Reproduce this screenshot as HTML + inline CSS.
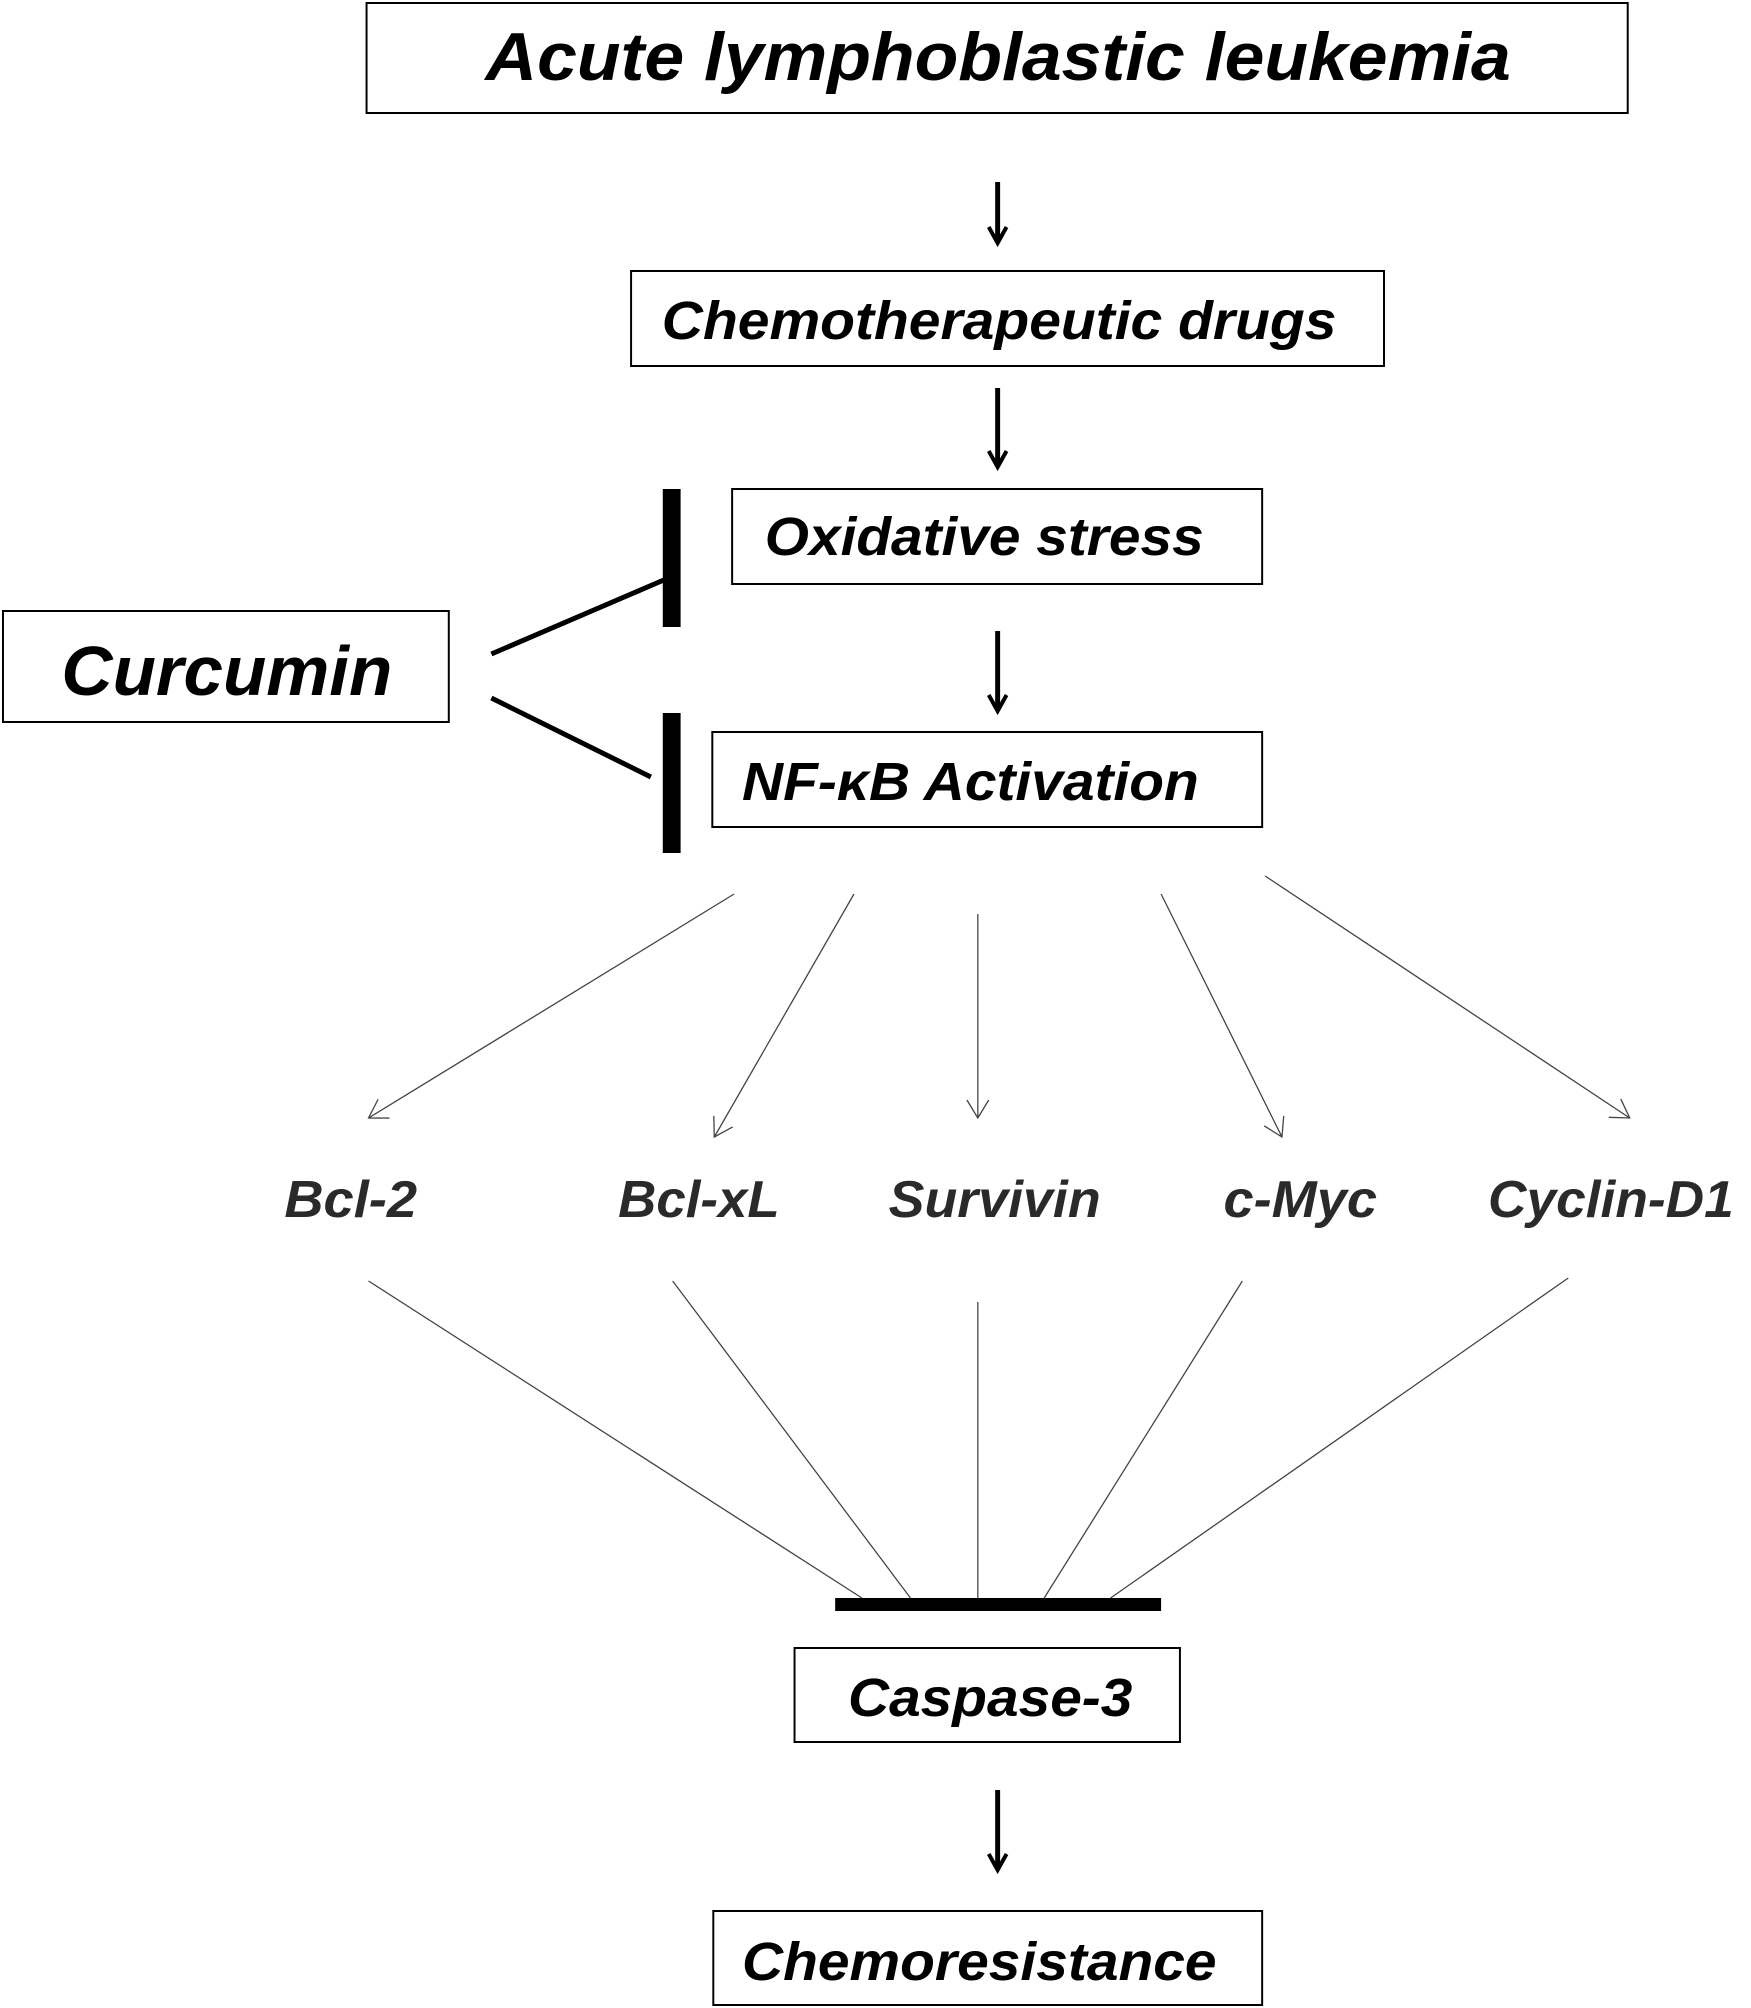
<!DOCTYPE html>
<html><head><meta charset="utf-8"><style>html,body{margin:0;padding:0;background:#fff}svg{display:block}</style></head>
<body>
<svg width="1751" height="2008" viewBox="0 0 1751 2008" xmlns="http://www.w3.org/2000/svg" font-family="Liberation Sans, Arial, sans-serif" font-style="italic" font-weight="bold">
<defs>
<marker id="ah" markerWidth="24" markerHeight="24" refX="18" refY="12" orient="auto" markerUnits="userSpaceOnUse"><path d="M2,3 L18,12 L2,21" fill="none" stroke="#000" stroke-width="4"/></marker>
<marker id="th" markerWidth="26" markerHeight="26" refX="20" refY="13" orient="auto" markerUnits="userSpaceOnUse"><path d="M2,2 L20,13 L2,24" fill="none" stroke="#444" stroke-width="1.3"/></marker>
</defs>
<g transform="scale(0.9907,1)">
<g fill="none" stroke="#000" stroke-width="2">
<rect x="370" y="3" width="1273" height="110"/>
<rect x="637" y="271" width="760" height="95"/>
<rect x="739" y="489" width="535" height="95"/>
<rect x="3" y="611" width="450" height="111"/>
<rect x="719" y="732" width="555" height="95"/>
<rect x="802" y="1648" width="389" height="94"/>
<rect x="720" y="1911" width="554" height="94"/>
</g>
<g stroke="#000" stroke-width="5" fill="none" marker-end="url(#ah)">
<line x1="1007" y1="182" x2="1007" y2="243"/>
<line x1="1007" y1="388" x2="1007" y2="467"/>
<line x1="1007" y1="631" x2="1007" y2="711"/>
<line x1="1007" y1="1790" x2="1007" y2="1870"/>
</g>
<g stroke="#000" stroke-width="5">
<line x1="496" y1="654" x2="670" y2="580"/>
<line x1="496" y1="698" x2="657" y2="777"/>
</g>
<rect x="669" y="489" width="18" height="138" fill="#000"/>
<rect x="669" y="713" width="18" height="140" fill="#000"/>
<g stroke="#444" stroke-width="1.3" fill="none" marker-end="url(#th)">
<line x1="741" y1="894" x2="372" y2="1118"/>
<line x1="862" y1="894" x2="721" y2="1137"/>
<line x1="987" y1="914" x2="987" y2="1118"/>
<line x1="1172" y1="894" x2="1294" y2="1137"/>
<line x1="1277" y1="876" x2="1645" y2="1118"/>
</g>
<g stroke="#444" stroke-width="1.3">
<line x1="372" y1="1281" x2="870" y2="1598"/>
<line x1="679" y1="1281" x2="919" y2="1598"/>
<line x1="987" y1="1302" x2="987" y2="1598"/>
<line x1="1254" y1="1281" x2="1054" y2="1598"/>
<line x1="1583" y1="1278" x2="1121" y2="1598"/>
</g>
<rect x="843" y="1598" width="329" height="13" fill="#000"/>
<g fill="#000">
<text x="490" y="80" font-size="68" textLength="1035" lengthAdjust="spacingAndGlyphs">Acute lymphoblastic leukemia</text>
<text x="668" y="339" font-size="54" textLength="681" lengthAdjust="spacingAndGlyphs">Chemotherapeutic drugs</text>
<text x="772" y="555" font-size="54" textLength="443" lengthAdjust="spacingAndGlyphs">Oxidative stress</text>
<text x="62" y="695" font-size="70" textLength="334" lengthAdjust="spacingAndGlyphs">Curcumin</text>
<text x="749" y="800" font-size="54" textLength="461" lengthAdjust="spacingAndGlyphs">NF-κB Activation</text>
<text x="856" y="1716" font-size="54" textLength="287" lengthAdjust="spacingAndGlyphs">Caspase-3</text>
<text x="749" y="1980" font-size="54" textLength="479" lengthAdjust="spacingAndGlyphs">Chemoresistance</text>
</g>
<g fill="#2a2a2a" font-size="52">
<text x="287" y="1217" textLength="134" lengthAdjust="spacingAndGlyphs">Bcl-2</text>
<text x="624" y="1217" textLength="163" lengthAdjust="spacingAndGlyphs">Bcl-xL</text>
<text x="897" y="1217" textLength="214" lengthAdjust="spacingAndGlyphs">Survivin</text>
<text x="1235" y="1217" textLength="155" lengthAdjust="spacingAndGlyphs">c-Myc</text>
<text x="1502" y="1217" textLength="248" lengthAdjust="spacingAndGlyphs">Cyclin-D1</text>
</g>
</g>
</svg>
</body></html>
